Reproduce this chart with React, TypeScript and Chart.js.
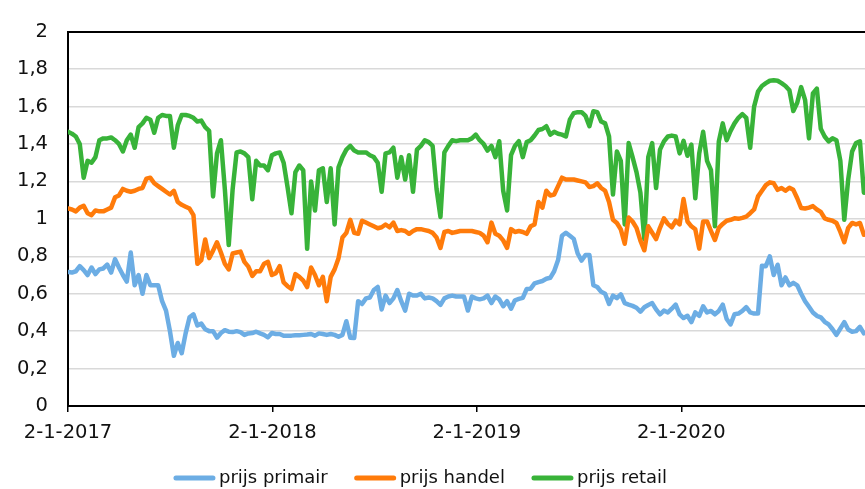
import { useEffect, useRef } from "react";
import { Chart, registerables } from "chart.js";

Chart.register(...registerables);

const seriesNames = ["prijs primair", "prijs handel", "prijs retail"];
const seriesColors = ["#6CADE4", "#FF7B0A", "#38B339"];

const xTickDays = [0, 365, 730, 1095];
const xTickLabels = ["2-1-2017", "2-1-2018", "2-1-2019", "2-1-2020"];

const primair = [
  0.716, 0.713, 0.72, 0.747, 0.726, 0.70, 0.74, 0.705, 0.73, 0.735,
  0.756, 0.713, 0.785, 0.74, 0.70, 0.665, 0.82, 0.645, 0.70, 0.60,
  0.70, 0.645, 0.645, 0.645, 0.56, 0.51, 0.40, 0.268, 0.337, 0.282,
  0.388, 0.474, 0.49, 0.43, 0.44, 0.41, 0.40, 0.40, 0.365, 0.39,
  0.405, 0.397, 0.395, 0.40, 0.395, 0.38, 0.388, 0.39, 0.397, 0.388,
  0.38, 0.367, 0.39, 0.385, 0.385, 0.375, 0.375, 0.376, 0.378, 0.378,
  0.38, 0.382, 0.385, 0.376, 0.388, 0.385, 0.38, 0.385, 0.38, 0.37,
  0.38, 0.453, 0.365, 0.363, 0.56, 0.545, 0.575, 0.58, 0.62, 0.636,
  0.516, 0.59, 0.55, 0.575, 0.62, 0.56, 0.51, 0.60, 0.59, 0.59,
  0.60, 0.575, 0.58, 0.575, 0.56, 0.54, 0.575, 0.585, 0.59, 0.585,
  0.585, 0.585, 0.51, 0.585, 0.575, 0.57, 0.575, 0.59, 0.55, 0.585,
  0.57, 0.533, 0.56, 0.52, 0.565, 0.572, 0.578, 0.625, 0.627, 0.655,
  0.662, 0.668, 0.68, 0.685, 0.72, 0.78, 0.91, 0.926, 0.91, 0.893,
  0.815, 0.777, 0.807, 0.807, 0.645, 0.636, 0.61, 0.60, 0.545, 0.59,
  0.576, 0.597, 0.55, 0.542, 0.535, 0.525, 0.504, 0.528, 0.54, 0.55,
  0.516, 0.49, 0.51, 0.50, 0.52, 0.542, 0.49, 0.47, 0.482, 0.448,
  0.50, 0.482, 0.533, 0.50, 0.508, 0.49, 0.508, 0.542, 0.465, 0.436,
  0.49, 0.494, 0.508, 0.528, 0.50, 0.494, 0.494, 0.75, 0.747, 0.80,
  0.70, 0.755, 0.645, 0.687, 0.645, 0.658, 0.645, 0.60, 0.56, 0.53,
  0.50, 0.482, 0.474, 0.45, 0.436, 0.41, 0.38, 0.414, 0.448, 0.409,
  0.397, 0.40, 0.423, 0.388,
];

const handel = [
  1.055, 1.05, 1.04, 1.06, 1.07, 1.03, 1.02, 1.045, 1.04, 1.04,
  1.05, 1.06, 1.115, 1.125, 1.16, 1.15, 1.145, 1.15, 1.16, 1.165,
  1.215, 1.22, 1.19, 1.175, 1.16, 1.145, 1.13, 1.15, 1.09, 1.075,
  1.065, 1.055, 1.02, 0.76, 0.78, 0.89, 0.79, 0.83, 0.875, 0.82,
  0.76, 0.73, 0.815, 0.82, 0.825, 0.77, 0.745, 0.695, 0.72, 0.72,
  0.76, 0.77, 0.70, 0.71, 0.747, 0.66, 0.64, 0.625, 0.705, 0.69,
  0.67, 0.635, 0.74, 0.70, 0.645, 0.69, 0.56, 0.69, 0.73, 0.79,
  0.90, 0.925, 0.995, 0.925, 0.92, 0.99, 0.98, 0.97, 0.96, 0.95,
  0.955, 0.97, 0.955, 0.98, 0.935, 0.94, 0.935, 0.92, 0.935, 0.945,
  0.945, 0.94, 0.935, 0.925, 0.90, 0.845, 0.93, 0.935, 0.925, 0.93,
  0.935, 0.935, 0.935, 0.935, 0.93, 0.925, 0.91, 0.875, 0.98, 0.92,
  0.91, 0.885, 0.845, 0.945, 0.93, 0.935, 0.93, 0.92, 0.96, 0.97,
  1.09, 1.06, 1.15, 1.125, 1.13, 1.175, 1.22, 1.21, 1.21, 1.21,
  1.205, 1.20, 1.195, 1.17, 1.175, 1.19, 1.165, 1.15, 1.09, 0.995,
  0.978, 0.944, 0.867, 1.007, 0.986, 0.952, 0.884, 0.832, 0.96, 0.926,
  0.892, 0.952, 1.003, 0.973, 0.955, 0.99, 0.97, 1.106, 0.986, 0.96,
  0.944, 0.841, 0.986, 0.986, 0.935, 0.887, 0.952, 0.973, 0.99, 0.995,
  1.003, 1.0, 1.005, 1.012, 1.03, 1.05, 1.12, 1.15, 1.18, 1.195,
  1.19, 1.155, 1.165, 1.15, 1.166, 1.155, 1.11, 1.058, 1.055, 1.06,
  1.068, 1.05, 1.037, 1.003, 0.995, 0.99, 0.978, 0.93, 0.875, 0.952,
  0.978, 0.97, 0.978, 0.915,
];

const retail = [
  1.465, 1.455, 1.44, 1.40, 1.22, 1.31, 1.30, 1.33, 1.42, 1.43,
  1.43, 1.435, 1.42, 1.40, 1.36, 1.42, 1.45, 1.38, 1.49, 1.51,
  1.54, 1.53, 1.46, 1.54, 1.555, 1.55, 1.55, 1.38, 1.50, 1.555,
  1.555, 1.55, 1.54, 1.52, 1.525, 1.49, 1.47, 1.12, 1.35, 1.42,
  1.16, 0.86, 1.16, 1.355, 1.36, 1.35, 1.33, 1.105, 1.31, 1.285,
  1.285, 1.26, 1.34, 1.35, 1.355, 1.30, 1.17, 1.03, 1.25, 1.285,
  1.26, 0.84, 1.20, 1.045, 1.26, 1.27, 1.09, 1.27, 0.97, 1.275,
  1.33, 1.37, 1.39, 1.365, 1.355, 1.355, 1.355, 1.34, 1.33, 1.30,
  1.145, 1.35, 1.355, 1.38, 1.22, 1.33, 1.21, 1.34, 1.145, 1.37,
  1.39, 1.42, 1.41, 1.39, 1.16, 1.01, 1.355, 1.39, 1.42, 1.415,
  1.42, 1.42, 1.42, 1.43, 1.45, 1.42, 1.40, 1.365, 1.39, 1.33,
  1.415, 1.15, 1.045, 1.34, 1.39, 1.415, 1.33, 1.41, 1.42, 1.445,
  1.475, 1.48, 1.495, 1.45, 1.465, 1.455, 1.45, 1.44, 1.53, 1.565,
  1.57, 1.57, 1.55, 1.495, 1.575, 1.57, 1.52, 1.51, 1.44, 1.13,
  1.36, 1.31, 0.97, 1.405, 1.33, 1.25, 1.14, 0.89, 1.33, 1.405,
  1.165, 1.37, 1.414, 1.44, 1.445, 1.44, 1.35, 1.417, 1.337, 1.397,
  1.11, 1.35, 1.465, 1.31, 1.26, 0.96, 1.414, 1.51, 1.42, 1.47,
  1.51, 1.54, 1.56, 1.54, 1.38, 1.60, 1.68, 1.71, 1.725, 1.738,
  1.74, 1.738, 1.725, 1.71, 1.687, 1.576, 1.62, 1.704, 1.636, 1.43,
  1.67, 1.696, 1.482, 1.44, 1.414, 1.43, 1.42, 1.31, 0.995, 1.21,
  1.36, 1.405, 1.414, 1.14,
];

// weekly observations, expressed as days after 2-1-2017
const weekDays = primair.map((_, i) => i * 7);

const FONT_FAMILY = '"DejaVu Sans", Verdana, sans-serif';
const TICK_FONT_SIZE = 19.5;
const LEGEND_FONT_SIZE = 18;

const legendPlugin = {
  id: "bottomLegend",
  afterDraw(chart: any) {
    const ctx = chart.ctx as CanvasRenderingContext2D;
    const datasets = chart.data.datasets;
    const lineLen = 41;
    const gapText = 4;
    const gapItem = 27;
    const centerX = 420.5;
    const y = 478;
    ctx.save();
    ctx.font = `${LEGEND_FONT_SIZE}px ${FONT_FAMILY}`;
    ctx.textBaseline = "middle";
    ctx.textAlign = "left";
    const widths = datasets.map((d: any) => ctx.measureText(d.label).width);
    let total = 0;
    widths.forEach((w: number, i: number) => {
      total += lineLen + gapText + w + (i > 0 ? gapItem : 0);
    });
    let x = centerX - total / 2;
    datasets.forEach((d: any, i: number) => {
      ctx.strokeStyle = d.borderColor;
      ctx.lineWidth = 5;
      ctx.lineCap = "round";
      ctx.beginPath();
      ctx.moveTo(x + 2, y);
      ctx.lineTo(x + lineLen - 2, y);
      ctx.stroke();
      ctx.fillStyle = "#111";
      ctx.fillText(d.label, x + lineLen + gapText, y);
      x += lineLen + gapText + widths[i] + gapItem;
    });
    ctx.restore();
  },
};

function formatY(v: number): string {
  const r = Math.round(v * 10) / 10;
  if (Number.isInteger(r)) return String(r);
  return r.toFixed(1).replace(".", ",");
}

export default function App() {
  const canvasRef = useRef<HTMLCanvasElement | null>(null);

  useEffect(() => {
    const canvas = canvasRef.current;
    if (!canvas) return;
    const series = [primair, handel, retail];
    const chart = new Chart(canvas, {
      type: "line",
      data: {
        datasets: series.map((vals, si) => ({
          label: seriesNames[si],
          data: vals.map((v, i) => ({ x: weekDays[i], y: v })),
          borderColor: seriesColors[si],
          backgroundColor: seriesColors[si],
          borderWidth: 4.5,
          pointRadius: 0,
          tension: 0,
          borderJoinStyle: "round" as const,
          borderCapStyle: "round" as const,
        })),
      },
      options: {
        responsive: false,
        animation: false,
        layout: { padding: { top: 16, right: 0, left: 0, bottom: 0 } },
        plugins: {
          legend: { display: false },
          tooltip: { enabled: false },
        },
        scales: {
          x: {
            type: "linear",
            min: 0,
            max: 1423,
            afterBuildTicks: (scale: any) => {
              scale.ticks = xTickDays.map((v) => ({ value: v }));
            },
            afterFit: (scale: any) => {
              scale.height = 83;
            },
            ticks: {
              autoSkip: false,
              maxRotation: 0,
              padding: 9,
              color: "#111",
              font: { family: FONT_FAMILY, size: TICK_FONT_SIZE },
              callback: (value: any) => {
                const idx = xTickDays.indexOf(Number(value));
                return idx >= 0 ? xTickLabels[idx] : "";
              },
            },
            grid: {
              drawOnChartArea: false,
              drawTicks: true,
              tickLength: 6,
              color: "#000",
              lineWidth: 1.5,
            },
            border: { color: "#000", width: 2 },
          },
          y: {
            min: 0,
            max: 2,
            afterFit: (scale: any) => {
              scale.width = 68;
            },
            ticks: {
              stepSize: 0.2,
              padding: 20,
              color: "#111",
              font: { family: FONT_FAMILY, size: TICK_FONT_SIZE },
              callback: (value: any) => formatY(Number(value)),
            },
            grid: {
              drawTicks: false,
              color: (ctx: any) => (ctx.tick && Math.abs(ctx.tick.value - 2) < 1e-6 ? "#000" : "#D9D9D9"),
              lineWidth: (ctx: any) => (ctx.tick && Math.abs(ctx.tick.value - 2) < 1e-6 ? 2 : 1.5),
            },
            border: { color: "#000", width: 2 },
          },
        },
      },
      plugins: [legendPlugin],
    });
    return () => chart.destroy();
  }, []);

  return (
    <div style={{ position: "fixed", left: 0, top: 0, width: 865, height: 489, background: "#fff" }}>
      <canvas ref={canvasRef} width={865} height={489} style={{ display: "block" }} />
    </div>
  );
}
